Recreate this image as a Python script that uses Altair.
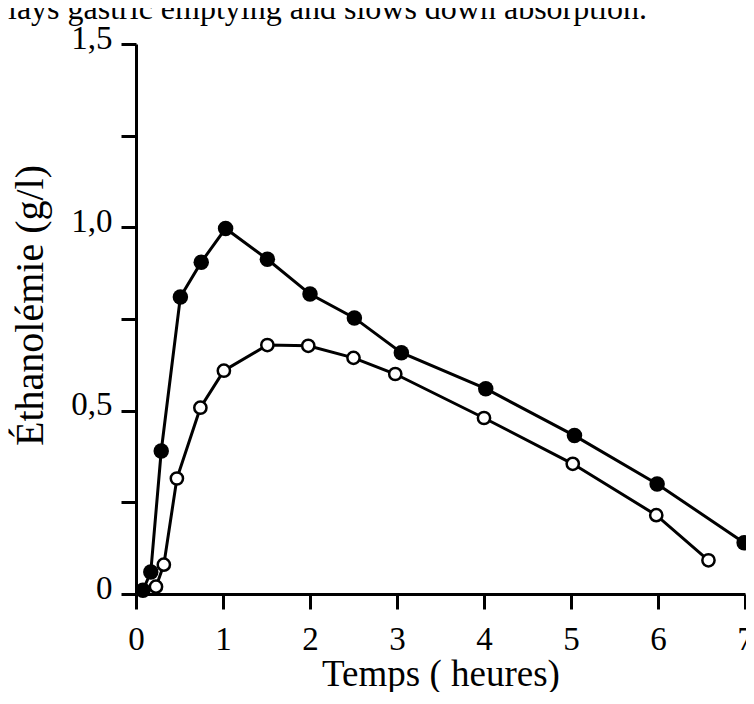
import altair as alt
import pandas as pd

# --- data ---
filled_t = [0.08, 0.17, 0.29, 0.51, 0.75, 1.03, 1.51, 2.00, 2.51, 3.05, 4.02, 5.04, 5.99, 6.99]
filled_c = [0.01, 0.06, 0.39, 0.81, 0.905, 0.997, 0.913, 0.818, 0.753, 0.658, 0.56, 0.432, 0.30, 0.14]
open_t = [0.23, 0.32, 0.47, 0.74, 1.01, 1.51, 1.98, 2.50, 2.98, 4.00, 5.02, 5.98, 6.58]
open_c = [0.02, 0.08, 0.315, 0.508, 0.609, 0.679, 0.677, 0.644, 0.60, 0.48, 0.355, 0.215, 0.092]
x_ticks = [0, 1, 2, 3, 4, 5, 6, 7]
y_ticks = [0, 0.25, 0.5, 0.75, 1.0, 1.25, 1.5]
header_text = "lays gastric emptying and slows down absorption."
x_title = "Temps ( heures)"
y_title = "Éthanolémie (g/l)"

FONT = "Liberation Serif"

df_f = pd.DataFrame({"t": filled_t, "c": filled_c})
df_o = pd.DataFrame({"t": open_t, "c": open_c})
df_h = pd.DataFrame({"txt": [header_text]})

x_enc = alt.X(
    "t:Q",
    scale=alt.Scale(domain=[0, 7], nice=False, zero=True),
    axis=alt.Axis(
        values=x_ticks, title=x_title, grid=False,
        domainColor="black", domainWidth=3,
        tickColor="black", tickWidth=3, tickSize=15,
        labelFont=FONT, labelFontSize=33, labelColor="black", labelPadding=14,
        labelFlush=False, labelOverlap=False,
        titleFont=FONT, titleFontSize=37, titleFontWeight="normal", titleColor="black",
        titleBaseline="alphabetic", titleY=91,
    ),
)
y_enc = alt.Y(
    "c:Q",
    scale=alt.Scale(domain=[0, 1.5], nice=False, zero=True),
    axis=alt.Axis(
        values=y_ticks, title=y_title, grid=False,
        domainColor="black", domainWidth=3,
        tickColor="black", tickWidth=3, tickSize=15,
        labelFont=FONT, labelFontSize=33, labelColor="black", labelPadding=9,
        labelFlush=False, labelOverlap=False,
        labelBaseline="alphabetic", labelOffset=4,
        labelExpr="datum.value == 0 ? '0' : ((datum.value * 2) % 1 == 0 ? replace(format(datum.value, '.1f'), '.', ',') : '')",
        titleFont=FONT, titleFontSize=40, titleFontWeight="normal", titleColor="black",
        titleAngle=270, titleBaseline="alphabetic", titleAlign="center",
        titleX=-94, titleY=261,
    ),
)

line_f = alt.Chart(df_f).mark_line(color="black", strokeWidth=3).encode(x=x_enc, y=y_enc)
line_o = alt.Chart(df_o).mark_line(color="black", strokeWidth=3).encode(x=x_enc, y=y_enc)
pts_f = alt.Chart(df_f).mark_point(
    shape="circle", filled=True, color="black", size=240, opacity=1
).encode(x=x_enc, y=y_enc)
pts_o = alt.Chart(df_o).mark_point(
    shape="circle", filled=True, fill="white", stroke="black", strokeWidth=2.5, size=150, opacity=1
).encode(x=x_enc, y=y_enc)

header = alt.Chart(df_h).mark_text(
    align="left", baseline="alphabetic", font=FONT, fontSize=32, color="black",
    x=-128, y=-25,
).encode(text="txt:N")

chart = (
    alt.layer(line_f, line_o, pts_f, pts_o, header)
    .properties(
        width=609, height=550,
        autosize=alt.AutoSizeParams(type="none"),
        padding={"left": 128, "top": 36, "right": 1, "bottom": 98},
        background="white",
    )
    .configure_view(stroke=None)
)

chart.save("out.html", embed_options={"renderer": "svg", "actions": False})
